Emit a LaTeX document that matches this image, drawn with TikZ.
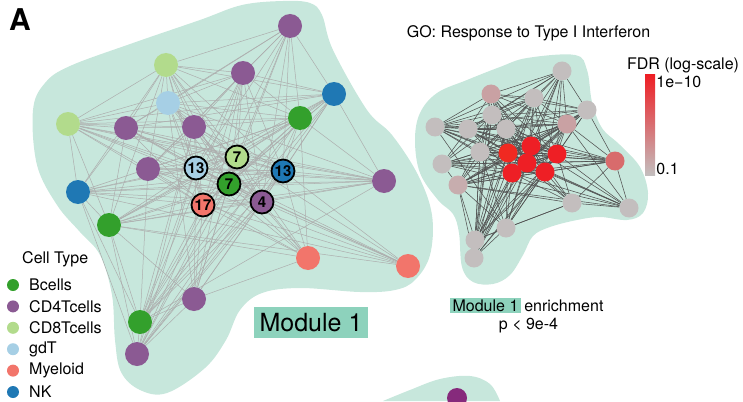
\documentclass[tikz,border=0pt]{standalone}
\usepackage{fontspec}
\setmainfont{TeX Gyre Heros}
\usetikzlibrary{positioning,backgrounds}
\definecolor{bcells}{HTML}{33A02C}
\definecolor{cdfour}{HTML}{8B5A93}
\definecolor{cdeight}{HTML}{B2DB8C}
\definecolor{gdt}{HTML}{A6CFE5}
\definecolor{myeloid}{HTML}{F2756B}
\definecolor{nk}{HTML}{1F78B4}
\definecolor{modfill}{HTML}{C7E7DC}
\definecolor{modlabel}{HTML}{8DD2BC}
\definecolor{fdrlow}{HTML}{C3BEBE}
\definecolor{fdrpink}{HTML}{C9A1A3}
\definecolor{fdrhigh}{HTML}{EE1F25}
\definecolor{fdrpart}{HTML}{D86B6C}
\definecolor{othermod}{HTML}{862A7C}
\begin{document}
\begin{tikzpicture}[x=1pt,y=-1pt,
  cell/.style={shape=circle,minimum size=24pt,inner sep=0pt},
  hub/.style={shape=circle,draw=black,line width=1.8pt,minimum size=23pt,inner sep=0pt,font=\fontsize{15}{15}\selectfont\bfseries},
  gene/.style={shape=circle,minimum size=19pt,inner sep=0pt},
  keydot/.style={shape=circle,minimum size=12pt,inner sep=0pt},
  leftedge/.style={draw=black!32,line width=0.5pt},
  rightedge/.style={draw=black!68,line width=0.55pt},
  txt/.style={font=\fontsize{16}{19}\selectfont,inner sep=0pt}]
\useasboundingbox (0,0) rectangle (743,401);

\begin{pgfonlayer}{background}
\fill[modfill] plot[smooth cycle,tension=0.6] coordinates {(33,110) (45,83) (70,66) (133,43) (200,20) (242,5) (283,1) (310,3) (322,15) (333,50) (367,110) (392,135) (418,175) (432,215) (430,255) (415,280) (395,290) (360,292) (300,288) (262,293) (240,310) (226,340) (205,368) (167,393) (140,390) (121,372) (115,340) (112,295) (100,255) (80,232) (57,205) (37,165)};
\fill[modfill] plot[smooth cycle,tension=0.6] coordinates {(415,140) (420,113) (437,93) (467,80) (500,67) (527,58) (575,55) (587,70) (592,102) (602,128) (620,145) (640,167) (648,193) (643,213) (627,220) (600,217) (577,220) (550,227) (533,236) (523,255) (510,275) (493,284) (473,282) (462,267) (459,233) (453,214) (438,200) (420,173)};
\fill[modfill] plot[smooth,tension=0.6] coordinates {(383,401) (410,390) (440,379) (470,376) (490,384) (500,401)} -- cycle;
\end{pgfonlayer}

\node(panel) at (20,20)[font=\fontsize{30}{30}\selectfont\bfseries] {A};

\node(m1) at (290,26)[cell,fill=cdfour] {};
\node(m2) at (166,65)[cell,fill=cdeight] {};
\node(m3) at (243,73)[cell,fill=cdfour] {};
\node(m4) at (334,94)[cell,fill=nk] {};
\node(m5) at (168,103)[cell,fill=gdt] {};
\node(m6) at (68,124)[cell,fill=cdeight] {};
\node(m7) at (126,128)[cell,fill=cdfour] {};
\node(m8) at (194,127)[cell,fill=cdfour] {};
\node(m9) at (300,118)[cell,fill=bcells] {};
\node(m10) at (148,169)[cell,fill=cdfour] {};
\node(m11) at (384,181)[cell,fill=cdfour] {};
\node(m12) at (78,192)[cell,fill=nk] {};
\node(m13) at (109,225)[cell,fill=bcells] {};
\node(m14) at (308,258)[cell,fill=myeloid] {};
\node(m15) at (408,266)[cell,fill=myeloid] {};
\node(m16) at (194,299)[cell,fill=cdfour] {};
\node(m17) at (140,322)[cell,fill=bcells] {};
\node(m18) at (137,354)[cell,fill=cdfour] {};

\node(h1) at (196,168)[hub,fill=gdt] {13};
\node(h2) at (237,157)[hub,fill=cdeight] {7};
\node(h3) at (229,184)[hub,fill=bcells] {7};
\node(h4) at (283,171)[hub,fill=nk] {13};
\node(h5) at (203,205)[hub,fill=myeloid] {17};
\node(h6) at (262,202)[hub,fill=cdfour] {4};

\node(modname) at (311,322.5)[fill=modlabel,font=\fontsize{25}{30}\selectfont,inner xsep=6pt,inner ysep=6pt] {Module 1};

\node(celltype) at (22,259)[txt,anchor=west] {Cell Type};
\foreach \i/\col/\name in {0/bcells/Bcells,1/cdfour/CD4Tcells,2/cdeight/CD8Tcells,3/gdt/gdT,4/myeloid/Myeloid,5/nk/NK}
{
  \node(key\i) at (13,285+21.4*\i)[keydot,fill=\col] {};
  \node(keyname\i) at (29,285+21.4*\i)[txt,anchor=west] {\name};
}

\node(golabel) at (528.5,33)[txt] {GO: Response to Type I Interferon};

\node(g1) at (562,71)[gene,fill=fdrlow] {};
\node(g2) at (491,94)[gene,fill=fdrpink] {};
\node(g3) at (534,98)[gene,fill=fdrlow] {};
\node(g4) at (587,110)[gene,fill=fdrlow] {};
\node(g5) at (492,115)[gene,fill=fdrlow] {};
\node(g6) at (435,127)[gene,fill=fdrlow] {};
\node(g7) at (468,129)[gene,fill=fdrlow] {};
\node(g8) at (506,129)[gene,fill=fdrlow] {};
\node(g9) at (567,124)[gene,fill=fdrpink] {};
\node(g10) at (480,152)[gene,fill=fdrlow] {};
\node(g11) at (508,153)[gene,fill=fdrhigh!90!orange] {};
\node(g12) at (531,146)[gene,fill=fdrhigh] {};
\node(g13) at (557,154)[gene,fill=fdrhigh] {};
\node(g14) at (527,163)[gene,fill=fdrhigh] {};
\node(g15) at (512,173)[gene,fill=fdrhigh] {};
\node(g16) at (545,172)[gene,fill=fdrhigh] {};
\node(g17) at (615,161)[gene,fill=fdrpart] {};
\node(g18) at (442,164)[gene,fill=fdrlow] {};
\node(g19) at (458,185)[gene,fill=fdrpink!60!fdrlow] {};
\node(g20) at (572,203)[gene,fill=fdrlow] {};
\node(g21) at (629,208)[gene,fill=fdrlow] {};
\node(g22) at (506,228)[gene,fill=fdrlow] {};
\node(g23) at (475,240)[gene,fill=fdrlow] {};
\node(g24) at (474,258)[gene,fill=fdrlow] {};

\node(fdrbar) at (650,125)[minimum width=10pt,minimum height=100pt,inner sep=0pt,top color=fdrhigh,bottom color=fdrlow] {};
\node(fdrtitle) at (683,65)[txt] {FDR (log-scale)};
\node(fdrtop) at ([xshift=1pt,yshift=-1pt]fdrbar.north east)[txt,anchor=north west] {1e−10};
\node(fdrbottom) at ([xshift=1pt]fdrbar.south east)[txt,anchor=south west] {0.1};

\node(enrmod) at (485.5,305.5)[fill=modlabel,font=\fontsize{16}{19}\selectfont,inner xsep=2.5pt,inner ysep=2pt] {Module 1};
\node(enrword) at ([xshift=3pt]enrmod.base east)[txt,anchor=base west] {enrichment};
\node(pval) at (528.5,326)[txt] {p < 9e-4};

\node(other) at (457,398)[shape=circle,minimum size=20pt,inner sep=0pt,fill=othermod] {};

\begin{pgfonlayer}{background}
\foreach \h in {h1,h2,h3,h4,h5,h6}
  \foreach \p in {1,...,18}
    \path[leftedge] (\h) edge (m\p);
\foreach \a/\b in {h1/h2,h1/h3,h1/h4,h1/h5,h1/h6,h2/h3,h2/h4,h2/h5,h2/h6,h3/h4,h3/h5,h3/h6,h4/h5,h4/h6,h5/h6,
  m1/m2,m1/m3,m1/m4,m1/m9,m1/m5,m1/m7,m1/m10,m2/m3,m2/m5,m2/m6,m2/m7,m2/m8,m2/m4,m2/m9,m2/m10,m2/m12,m2/m13,
  m3/m4,m3/m6,m3/m8,m3/m9,m3/m5,m3/m10,m3/m16,m3/m17,m4/m9,m4/m11,m4/m6,m4/m7,m4/m13,m4/m5,m4/m17,m4/m18,
  m5/m6,m5/m7,m5/m8,m5/m9,m5/m11,m5/m16,m6/m7,m6/m8,m6/m9,m6/m10,m6/m11,m6/m12,m6/m13,
  m7/m8,m7/m11,m7/m15,m7/m13,m7/m12,m8/m9,m8/m10,m8/m14,m8/m17,m8/m18,
  m9/m10,m9/m11,m9/m12,m9/m13,m9/m14,m9/m17,m9/m18,m10/m11,m10/m15,m10/m17,
  m11/m12,m11/m13,m11/m17,m12/m13,m12/m17,m12/m18,m12/m15,
  m13/m14,m13/m15,m13/m16,m13/m17,m13/m18,m14/m16,m14/m10,m16/m17,m16/m18,m17/m18}
  \path[leftedge] (\a) edge (\b);
\foreach \r in {11,...,16}
  \foreach \q in {1,...,24}
    \path[rightedge] (g\r) edge (g\q);
\foreach \a/\b in {g1/g2,g1/g3,g1/g5,g1/g6,g1/g7,g1/g9,g1/g8,g1/g4,g2/g3,g2/g4,g2/g5,g2/g6,g2/g7,g2/g8,g2/g10,g2/g9,
  g3/g4,g3/g5,g3/g6,g3/g7,g3/g8,g3/g9,g3/g10,g3/g18,g4/g5,g4/g6,g4/g8,g4/g9,g4/g17,g4/g19,
  g5/g6,g5/g7,g5/g8,g5/g9,g5/g10,g5/g18,g5/g19,g6/g7,g6/g8,g6/g9,g6/g10,g7/g8,g7/g9,g7/g17,g7/g18,
  g8/g9,g8/g10,g8/g17,g8/g19,g9/g10,g9/g17,g9/g18,g9/g19,g9/g21,g9/g22,g10/g17,g10/g18,g10/g19,
  g17/g18,g17/g19,g17/g20,g17/g21,g18/g19,g18/g21,g19/g20,g19/g21,g19/g22,g19/g23,g19/g24,
  g20/g21,g20/g22,g20/g23,g22/g23,g22/g24,g23/g24,g23/g5,g23/g8,g23/g2,g23/g10,
  g24/g8,g24/g5,g24/g10,g24/g3,g22/g6,g22/g10}
  \path[rightedge] (\a) edge (\b);
\end{pgfonlayer}

\end{tikzpicture}
\end{document}
